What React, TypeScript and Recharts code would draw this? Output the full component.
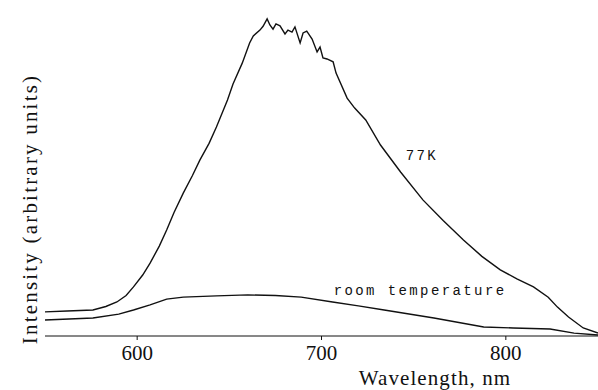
import React from 'react';
import { LineChart, Line, XAxis, YAxis, ReferenceDot, Customized } from 'recharts';

const k77Wavelength = [550, 562, 576, 583, 589, 594, 598, 603, 607, 612, 616, 620, 625, 630, 634, 639, 643, 649, 652, 657, 661, 663, 666.6, 668.3, 670.5, 672, 673.7, 675.3, 677.5, 680.2, 681.8, 684, 685.6, 688.4, 690, 692, 694.9, 697.6, 699.2, 700.8, 703, 706.3, 707.9, 713.9, 718, 724, 732, 743, 755, 766, 777, 787, 797, 806, 815, 823, 828, 834, 842, 850];
const k77Intensity = [7.5, 7.8, 8.1, 9.2, 10.6, 12.6, 15.3, 19.0, 22.7, 28.0, 33.0, 38.5, 44.5, 50.0, 54.8, 60.0, 65.1, 73.5, 78.5, 85.0, 91.3, 93.5, 95.3, 96.5, 98.8, 96.9, 95.6, 97.2, 96.6, 94.1, 95.3, 94.7, 96.3, 91.3, 94.4, 95.0, 92.5, 88.5, 90.0, 86.6, 86.3, 85.4, 81.9, 74.1, 71.0, 67.3, 59.5, 51.0, 42.4, 36.0, 29.9, 24.8, 20.6, 17.8, 15.3, 12.1, 9.0, 5.9, 2.5, 0.9];

const roomWavelength = [550, 576, 590, 598, 607, 616, 625, 643, 660, 675, 689, 706, 720, 734, 761, 788, 804, 824, 837, 850];
const roomIntensity = [5.0, 5.6, 6.8, 8.1, 9.7, 11.5, 12.1, 12.5, 12.8, 12.6, 12.1, 10.6, 9.4, 8.1, 5.6, 2.8, 2.5, 2.2, 0.9, 0.3];

const xTicks = [600, 700, 800];
const xDomain = [550, 850];
const yDomain = [0, 100];

const seriesLabels = ['77K', 'room temperature'];
const labelPositions = [
  { x: 754.5, y: 56.4 },
  { x: 753.5, y: 14.3 },
];

const k77Data = k77Wavelength.map((w, i) => ({ w, v: k77Intensity[i] }));
const roomData = roomWavelength.map((w, i) => ({ w, v: roomIntensity[i] }));

const serif = 'Liberation Serif';
const mono = 'Liberation Mono';

const AxisTitles = () => (
  <g>
    <text x={435} y={385} textAnchor="middle" style={{ fontFamily: serif, fontSize: 21, letterSpacing: 1.1 }} fill="#111">
      Wavelength, nm
    </text>
    <text
      x={37}
      y={209}
      textAnchor="middle"
      style={{ fontFamily: serif, fontSize: 21, letterSpacing: 2.2 }}
      fill="#111"
      transform="rotate(-90 37 209)"
    >
      Intensity (arbitrary units)
    </text>
  </g>
);

const monoLabel = (text: string) => (props: any) => {
  const vb = props.viewBox || {};
  const cx = vb.x + (vb.width || 0) / 2;
  const cy = vb.y + (vb.height || 0) / 2;
  return (
    <text x={cx} y={cy} dy={5} textAnchor="middle" style={{ fontFamily: mono, fontSize: 14, letterSpacing: 2.4 }} fill="#111">
      {text}
    </text>
  );
};

export default function App() {
  return (
    <div style={{ position: 'fixed', left: 0, top: 0, width: 598, height: 390, background: '#fff' }}>
      <LineChart width={598} height={390} margin={{ top: 15, right: 0, bottom: 24, left: 45 }}>
        <XAxis
          dataKey="w"
          type="number"
          domain={xDomain}
          ticks={xTicks}
          allowDataOverflow
          height={30}
          stroke="#111"
          tickSize={4}
          tickMargin={5}
          tick={{ fill: '#111', fontSize: 21, style: { fontFamily: serif } }}
        />
        <YAxis type="number" domain={yDomain} width={0} tick={false} tickLine={false} stroke="#111" />
        <Line data={k77Data} dataKey="v" type="linear" stroke="#111" strokeWidth={1.4} dot={false} isAnimationActive={false} />
        <Line data={roomData} dataKey="v" type="linear" stroke="#111" strokeWidth={1.4} dot={false} isAnimationActive={false} />
        {seriesLabels.map((s, i) => (
          <ReferenceDot
            key={s}
            x={labelPositions[i].x}
            y={labelPositions[i].y}
            r={0}
            fill="none"
            stroke="none"
            label={monoLabel(s)}
          />
        ))}
        <Customized component={AxisTitles} />
      </LineChart>
    </div>
  );
}
